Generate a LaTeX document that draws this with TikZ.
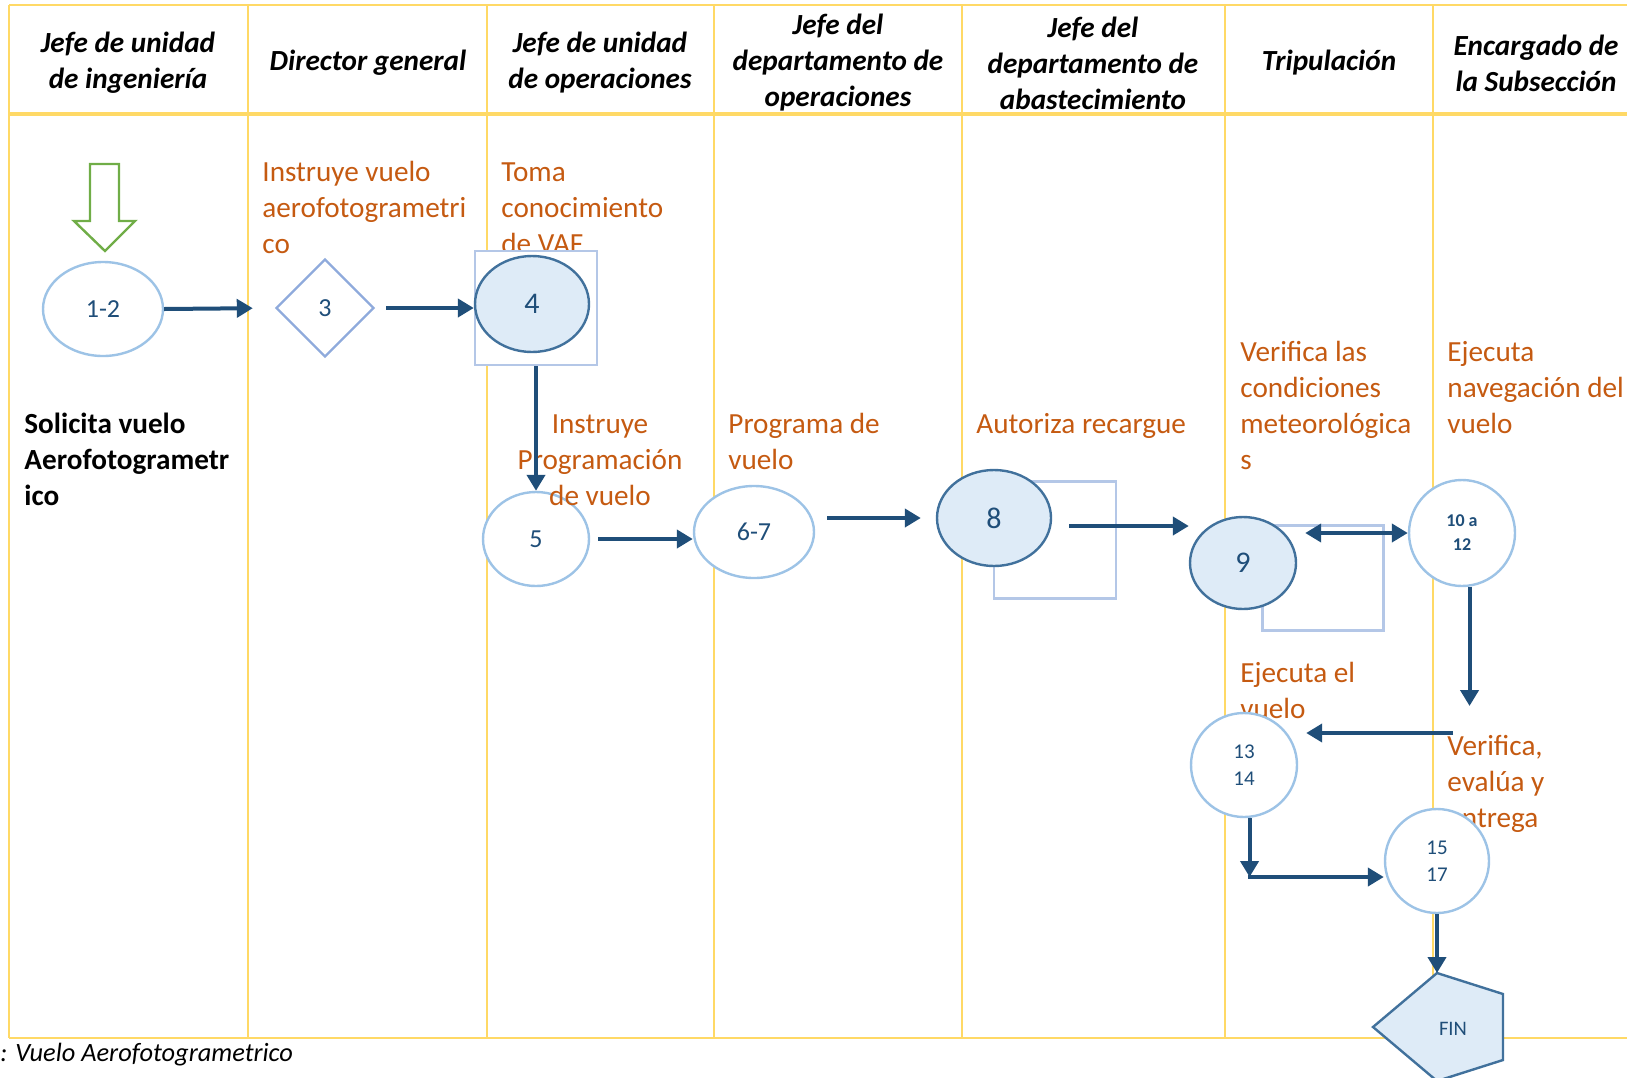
\documentclass[tikz,border=0pt]{standalone}
\usepackage{fontspec}
\setmainfont{Carlito}
\usetikzlibrary{arrows.meta,shapes.geometric,calc}
\definecolor{fgold}{HTML}{FFD966}
\definecolor{fnavy}{HTML}{1F4E79}
\definecolor{fsky}{HTML}{9DC3E6}
\definecolor{fsteel}{HTML}{41719C}
\definecolor{fpale}{HTML}{DEEBF7}
\definecolor{fbox}{HTML}{B4C7E7}
\definecolor{fdiam}{HTML}{8FAADC}
\definecolor{forange}{HTML}{C55A11}
\definecolor{fgreen}{HTML}{70AD47}
\tikzset{
  lane/.style={draw=fgold,line width=0.8pt},
  head/.style={align=center,inner sep=0pt,font=\fontsize{14.6}{18}\selectfont\bfseries\itshape},
  task/.style={anchor=north west,align=left,inner sep=0pt,text=forange,font=\fontsize{14.6}{18}\selectfont},
  stepnode/.style={ellipse,draw=fsky,line width=1.2pt,fill=white,text=fnavy,inner sep=0pt,
    font=\fontsize{13}{15}\selectfont},
  keynode/.style={ellipse,draw=fsteel,line width=1.2pt,fill=fpale,text=fnavy,inner sep=0pt,
    font=\fontsize{15}{17}\selectfont},
  boxframe/.style={draw=fbox,line width=1.2pt,inner sep=0pt},
  flow/.style={draw=fnavy,line width=2pt,-{Triangle[length=8pt,width=9pt]}},
  twoway/.style={draw=fnavy,line width=2pt,{Triangle[length=8pt,width=9pt]}-{Triangle[length=8pt,width=9pt]}},
}
\begin{document}
\begin{tikzpicture}[x=0.5pt,y=-0.5pt]
  \useasboundingbox (0,0) rectangle (1627,1077);

  % swimlanes
  \foreach \xl in {9,248,487,714,962,1225,1433}
    \draw[lane] (\xl,5) -- (\xl,1038);
  \draw[lane] (9,5) -- (1640,5);
  \draw[lane] (9,1038) -- (1640,1038);
  \draw[draw=fgold,line width=2pt] (9,114) -- (1640,114);

  \foreach \cx/\who [count=\i] in {%
    128/{Jefe de unidad\\de ingeniería},
    368/{Director general},
    600/{Jefe de unidad\\de operaciones},
    838/{Jefe del\\departamento de\\operaciones},
    1093/{Jefe del\\departamento de\\abastecimiento},
    1329/{Tripulación},
    1536/{Encargado de\\la Subsección}}
    \node[head] (head\i) at (\cx,63) {\who};

  % activity texts
  \node[task,text=black,font=\fontsize{14.6}{18}\selectfont\bfseries] (t12) at (24,408)
    {\strut Solicita vuelo\\Aerofotogrametr\\ico};
  \node[task] (t3) at (262,156) {\strut Instruye vuelo\\aerofotogrametri\\co};
  \node[task] (t4) at (501,156) {\strut Toma\\conocimiento\\de VAF};
  \node[task] (t67) at (728,408) {\strut Programa de\\vuelo};
  \node[task] (t8) at (976,408) {\strut Autoriza recargue};
  \node[task] (t9) at (1240,336) {\strut Verifica las\\condiciones\\meteorológica\\s};
  \node[task] (t1012) at (1447,336) {\strut Ejecuta\\navegación del\\vuelo};
  \node[task] (t1314) at (1240,657) {\strut Ejecuta el\\vuelo};
  \node[task] (t1517) at (1447,730) {\strut Verifica,\\evalúa y\\entrega};

  % start marker
  \draw[fgreen,line width=1.2pt] (90,164) -- (119,164) -- (119,221) -- (135,221)
    -- (105,251) -- (74,221) -- (90,221) -- cycle;

  % steps
  \node[stepnode,minimum width=60pt,minimum height=47pt] (n12) at (103,309) {1-2};
  \node[diamond,draw=fdiam,line width=1.2pt,minimum width=49pt,minimum height=49pt,
    inner sep=0pt,text=fnavy,font=\fontsize{13}{15}\selectfont] (d3) at (325,308) {3};
  \node[boxframe,fill=white,minimum width=61pt,minimum height=57pt] (sq4) at (536,308) {};
  \node[keynode,minimum width=57pt,minimum height=48pt] (n4) at (532,304) {4};
  \node[stepnode,minimum width=53pt,minimum height=47pt] (n5) at (536,539) {5};
  \node[task,anchor=north,align=center] (t5) at (600,408) {\strut Instruye\\Programación\\de vuelo};
  \node[stepnode,minimum width=60pt,minimum height=46pt] (n67) at (754,532) {6-7};
  \node[boxframe,minimum width=61pt,minimum height=58.5pt] (sq8) at (1055,540) {};
  \node[keynode,minimum width=57pt,minimum height=48pt] (n8) at (994,518) {8};
  \node[boxframe,minimum width=60.5pt,minimum height=52.5pt] (sq9) at (1323,578) {};
  \node[keynode,minimum width=53pt,minimum height=46pt] (n9) at (1243,563) {9};
  \node[stepnode,minimum width=53pt,minimum height=53pt,align=center,
    font=\fontsize{9}{12}\selectfont\bfseries] (n1012) at (1462,533) {10 a\\12};
  \node[stepnode,minimum width=53pt,minimum height=52pt,align=center,
    font=\fontsize{10.5}{13.5}\selectfont] (n1314) at (1244,765) {13\\14};
  \node[stepnode,minimum width=52pt,minimum height=52pt,align=center,
    font=\fontsize{10.5}{13.5}\selectfont] (n1517) at (1437,861) {15\\17};

  \draw[fsteel,line width=1.2pt,fill=fpale] (1373,1027) -- (1437,973) -- (1503,994)
    -- (1503,1060) -- (1437,1081) -- cycle;
  \node[text=fnavy,font=\fontsize{10.3}{12}\selectfont] (fin) at (1453,1029) {FIN};
  \coordinate (fintop) at (1437,973);
  \coordinate (vdrop) at (1469,706);
  \coordinate (vback) at (1453,733);
  \coordinate (vturn) at (1248,877);
  \coordinate (o8) at ($(n8.east)+(0,8)$);

  % flow
  \draw[flow,shorten >=11pt] (n12.east) -- (d3.west);
  \draw[flow,shorten <=5.5pt] (d3.east) -- (sq4.west);
  \draw[flow] (sq4.south) -- (n5.north);
  \draw[flow,shorten <=4pt] (n5.east) -- (n5.east -| n67.west);
  \draw[flow,shorten <=6pt,shorten >=7.5pt] (n67.east |- n8.west) -- (n8.west);
  \draw[flow,shorten <=8.5pt] (o8) -- (o8 -| n9.west);
  \draw[twoway,shorten >=4pt] (n1012.west) -- (n1012.west -| n9.east);
  \draw[flow] (n1012.-82) -- (n1012.-82 |- vdrop);
  \draw[flow,shorten >=4pt] (vback) -- (vback -| n1314.east);
  \draw[flow] (n1314.-84) -- (n1314.-84 |- vturn);
  \draw[flow] (vturn) -- (vturn -| n1517.west);
  \draw[flow] (n1517.south) -- (fintop);

  \node[anchor=west,inner sep=0pt,font=\fontsize{13.2}{16}\selectfont\itshape] (caption)
    at (0,1055) {: Vuelo Aerofotogrametrico};
\end{tikzpicture}
\end{document}
